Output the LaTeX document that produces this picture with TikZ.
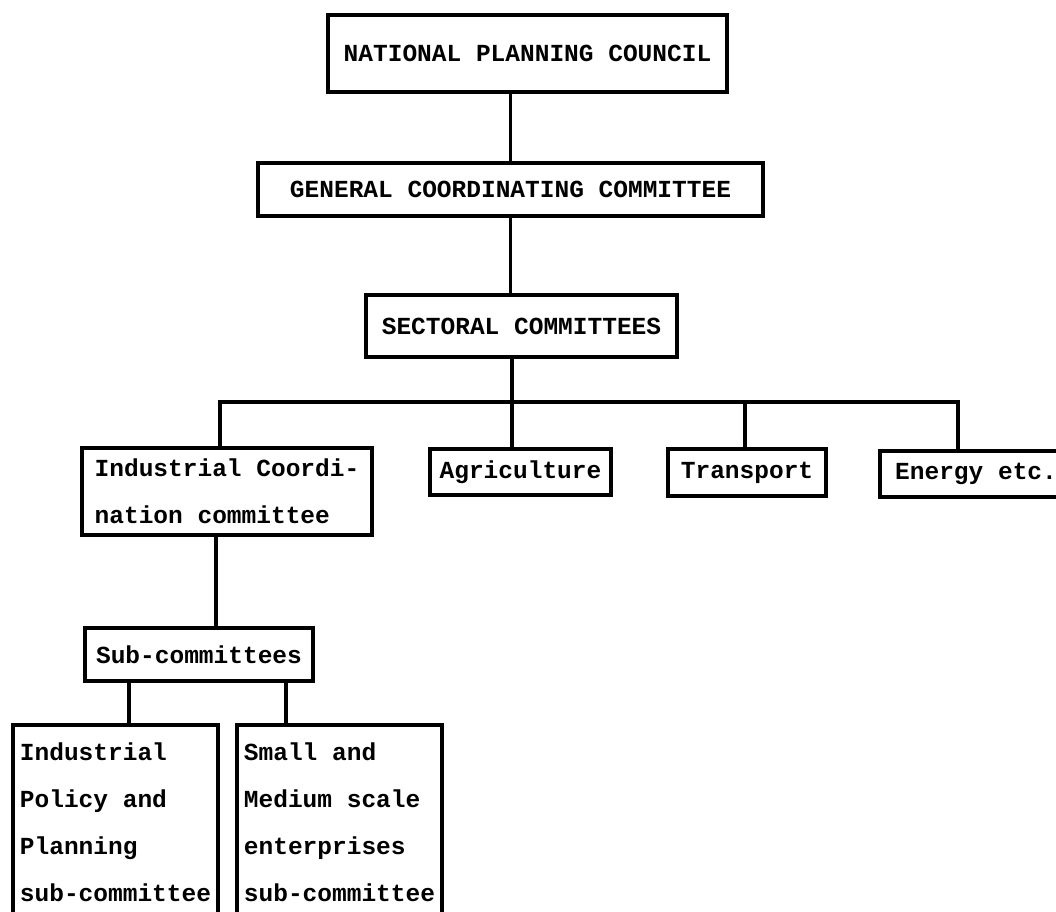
\documentclass[tikz,border=0pt]{standalone}
\usepackage{fontspec}
\setmonofont[WordSpace={1,0,0}]{Liberation Mono}
\begin{document}
\begin{tikzpicture}[x=1pt,y=-1pt,
  box/.style={draw, rectangle, line width=3.2pt, inner sep=0pt,
    font={\ttfamily\bfseries\fontsize{24.5}{47}\selectfont}},
  conn/.style={line width=3.2pt}]
\fill[white] (0,0) rectangle (1056,911);
\useasboundingbox (0,0) rectangle (1056,911);
\clip (0,0) rectangle (1056,911);
\node[box, minimum width=399pt, minimum height=77pt] (npc) at (527.5,53.5) {NATIONAL PLANNING COUNCIL};
\node[box, minimum width=505pt, minimum height=53pt] (gcc) at (510.5,189.5) {GENERAL COORDINATING COMMITTEE};
\node[box, minimum width=311pt, minimum height=62pt] (sc) at (521.5,326) {SECTORAL COMMITTEES};
\node[box, minimum width=290pt, minimum height=87pt, align=left] (ind) at (227,491.5) {Industrial Coordi-\\nation committee};
\node[box, minimum width=181pt, minimum height=46pt] (agr) at (520.5,472) {Agriculture};
\node[box, minimum width=158pt, minimum height=47pt] (tra) at (747,472.5) {Transport};
\node[box, minimum width=192pt, minimum height=46pt, align=left] (ene) at (976,474) {Energy etc.};
\node[box, minimum width=228pt, minimum height=53pt] (sub) at (199,654.5) {Sub-committees};
\node[box, minimum width=205pt, minimum height=195pt, align=left] (ipp) at (115.5,822.5) {Industrial\\Policy and\\Planning\\sub-committee};
\node[box, minimum width=205pt, minimum height=195pt, align=left] (sme) at (339.5,822.5) {Small and\\Medium scale\\enterprises\\sub-committee};
\coordinate (barL) at (220,402);
\coordinate (j0) at (512,402);
\coordinate (j3) at (745,402);
\coordinate (barR) at (958,402);
\coordinate (c1) at (216,600);
\coordinate (c2) at (129,700);
\coordinate (c3) at (286,700);
\draw[conn] (gcc.north) -- (gcc.north |- npc.south);
\draw[conn] (gcc.south) -- (gcc.south |- sc.north);
\draw[conn] (sc.south -| j0) -- (j0) -- (j0 |- agr.north);
\draw[conn] (barL |- ind.north) -- (barL) -- (barR) -- (barR |- ene.north);
\draw[conn] (j3) -- (j3 |- tra.north);
\draw[conn] (ind.south -| c1) -- (sub.north -| c1);
\draw[conn] (sub.south -| c2) -- (ipp.north -| c2);
\draw[conn] (sub.south -| c3) -- (sme.north -| c3);
\end{tikzpicture}
\end{document}
